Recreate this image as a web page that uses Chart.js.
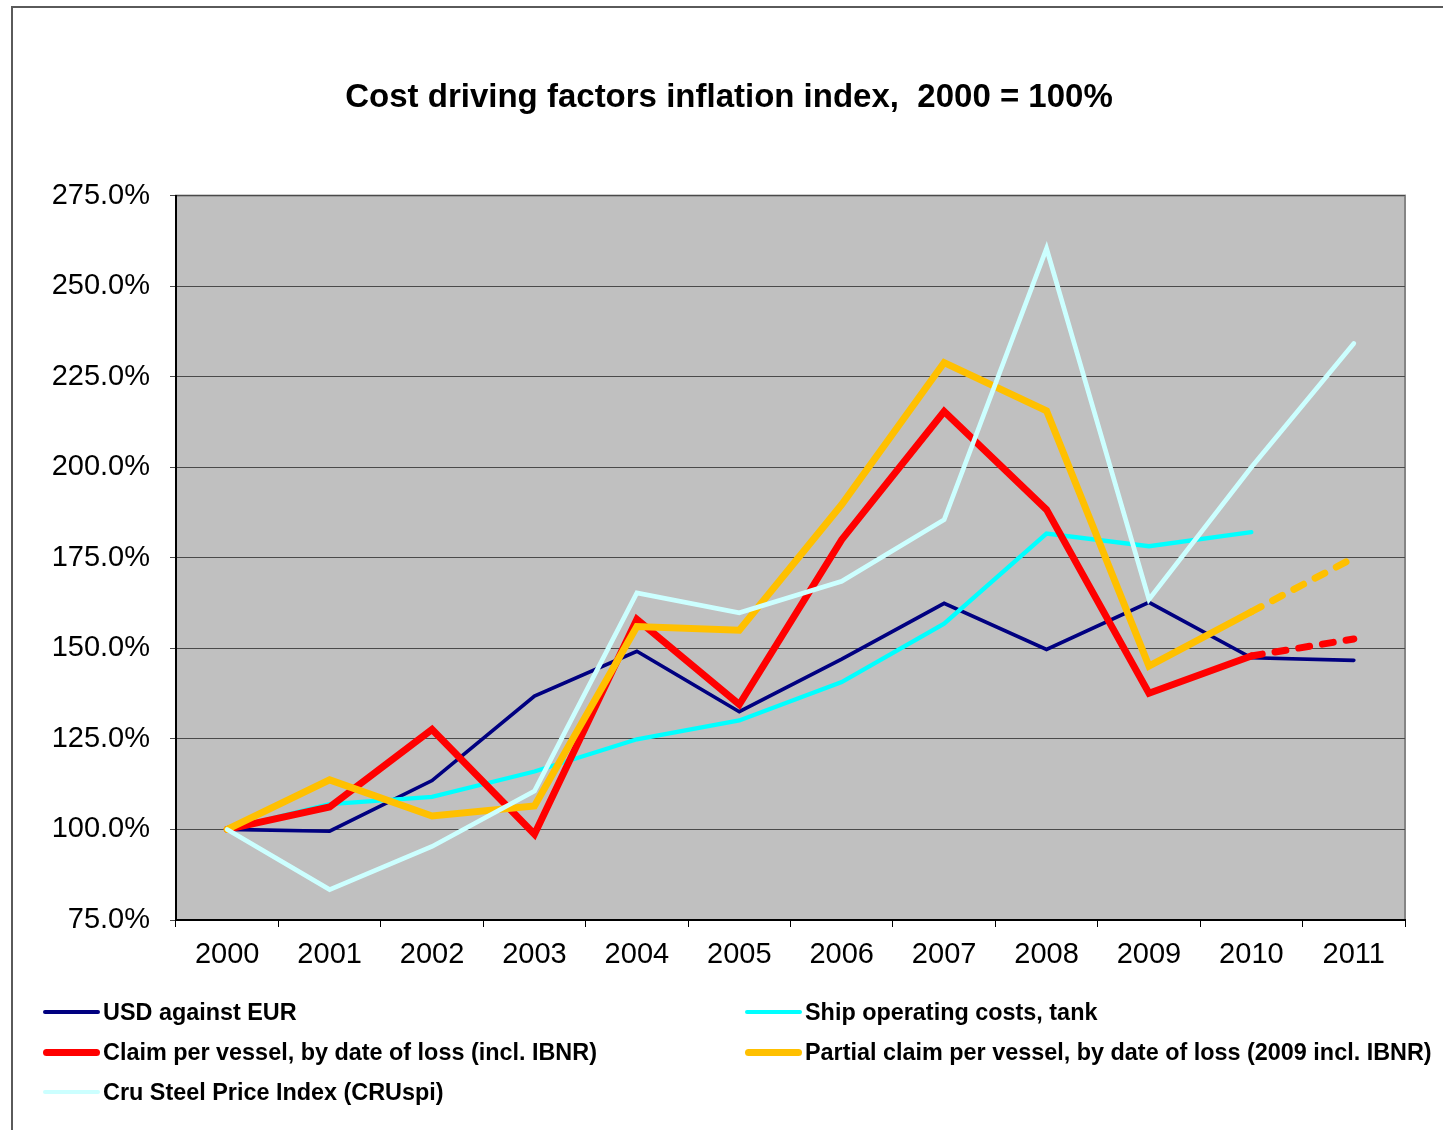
<!DOCTYPE html>
<html>
<head>
<meta charset="utf-8">
<title>Cost driving factors inflation index</title>
<script src="https://cdn.jsdelivr.net/npm/chart.js@4.4.0/dist/chart.umd.min.js"></script>
<style>
    html, body {
        margin: 0;
        padding: 0;
        background: #ffffff;
        overflow: hidden;
        width: 1443px;
        height: 1130px;
    }
    .frame {
        position: absolute;
        left: 11px;
        top: 6px;
        width: 1500px;
        height: 1200px;
        border-left: 2px solid #5a5a5a;
        border-top: 2px solid #5a5a5a;
    }
    .chart-box {
        position: absolute;
        left: 0;
        top: 0;
        width: 1458px;
        height: 1130px;
    }
    .legend-item {
        position: absolute;
        height: 30px;
        line-height: 30px;
        font-family: 'Liberation Sans', Arial, sans-serif;
        font-weight: bold;
        font-size: 23.4px;
        color: #000;
        white-space: nowrap;
    }
    .legend-item .swatch {
        position: absolute;
        left: 0;
        width: 57px;
        border-radius: 4px;
    }
    .legend-item .label {
        position: absolute;
        left: 60px;
        top: 0;
    }
</style>
</head>
<body>
<div class="frame"></div>
<div class="chart-box">
    <canvas id="inflationChart" width="1458" height="1130"></canvas>
</div>
<div id="legend"></div>

<script>
// categories
const years = ['2000', '2001', '2002', '2003', '2004', '2005', '2006', '2007', '2008', '2009', '2010', '2011'];

// index values, 2000 = 100%
const usdEur = [100, 99.5, 113.5, 136.8, 149.2, 132.5, 147.0, 162.4, 149.7, 162.7, 147.4, 146.7];
const shipOpex = [100, 107.0, 109.0, 116.0, 124.9, 130.1, 140.7, 156.8, 181.7, 178.2, 182.1, null];
const claimPerVessel = [100, 106.2, 127.6, 98.7, 158.0, 134.5, 180.0, 215.4, 188.3, 137.6, 147.9, 152.6];
const partialClaim = [100, 113.7, 103.7, 106.5, 156.0, 155.0, 189.7, 228.9, 215.6, 145.1, 160.1, 175.0];
const cruSteel = [100, 83.4, 95.3, 110.6, 165.3, 159.8, 168.5, 185.5, 260.4, 163.5, 200.0, 234.2];

// y axis range
const yMin = 75;
const yMax = 275;
const yStep = 25;

// last segment (2010 -> 2011) is a forecast, drawn dashed
const forecastFrom = 10;
const forecastDash = ctx => ctx.p0DataIndex >= forecastFrom ? [11, 13] : undefined;

Chart.defaults.font.family = "'Liberation Sans', Arial, sans-serif";
Chart.defaults.color = '#000';

const chartData = {
    labels: years,
    datasets: [
        {
            label: 'USD against EUR',
            data: usdEur,
            borderColor: '#000080',
            borderWidth: 3.7,
            order: 5
        },
        {
            label: 'Ship operating costs, tank',
            data: shipOpex,
            borderColor: '#00ffff',
            borderWidth: 4.3,
            order: 4
        },
        {
            label: 'Claim per vessel, by date of loss (incl. IBNR)',
            data: claimPerVessel,
            borderColor: '#ff0000',
            borderWidth: 7,
            segment: { borderDash: forecastDash },
            order: 3
        },
        {
            label: 'Partial claim per vessel, by date of loss (2009 incl. IBNR)',
            data: partialClaim,
            borderColor: '#ffc000',
            borderWidth: 7,
            segment: { borderDash: forecastDash },
            order: 2
        },
        {
            label: 'Cru Steel Price Index (CRUspi)',
            data: cruSteel,
            borderColor: '#ccffff',
            borderWidth: 4.7,
            order: 1
        }
    ]
};

chartData.datasets.forEach(ds => {
    ds.fill = false;
    ds.tension = 0;
    ds.pointRadius = 0;
    ds.pointHoverRadius = 0;
    ds.borderCapStyle = 'round';
    ds.borderJoinStyle = 'miter';
    ds.spanGaps = false;
});

// grey plot area with a thin frame
const plotBackground = {
    id: 'plotBackground',
    beforeDraw(chart) {
        const { ctx, chartArea: a } = chart;
        ctx.save();
        ctx.fillStyle = '#c0c0c0';
        ctx.fillRect(a.left, a.top, a.width, a.height);
        ctx.strokeStyle = '#858585';
        ctx.lineWidth = 2;
        ctx.strokeRect(a.left, a.top, a.width, a.height);
        ctx.restore();
    }
};

const config = {
    type: 'line',
    data: chartData,
    options: {
        responsive: false,
        animation: false,
        events: [],
        layout: {
            padding: { left: 53, right: 53, top: 0, bottom: 0 }
        },
        plugins: {
            legend: { display: false },
            tooltip: { enabled: false },
            title: {
                display: true,
                text: 'Cost driving factors inflation index,  2000 = 100%',
                color: '#000',
                font: { size: 33, weight: 'bold' },
                padding: { top: 78, bottom: 78 }
            }
        },
        scales: {
            x: {
                offset: true,
                grid: {
                    offset: true,
                    drawOnChartArea: false,
                    drawTicks: true,
                    tickLength: 7,
                    color: '#000'
                },
                border: { color: '#000', width: 2 },
                ticks: {
                    color: '#000',
                    font: { size: 29 },
                    padding: 11,
                    maxRotation: 0,
                    autoSkip: false
                },
                afterFit(scale) {
                    scale.height = 210;
                }
            },
            y: {
                min: yMin,
                max: yMax,
                grid: {
                    color: '#4a4a4a',
                    lineWidth: 1,
                    tickLength: 6
                },
                border: { color: '#000', width: 2 },
                ticks: {
                    stepSize: yStep,
                    color: '#000',
                    font: { size: 29 },
                    padding: 20,
                    callback: value => value.toFixed(1) + '%'
                },
                afterFit(scale) {
                    scale.width = 123;
                }
            }
        }
    },
    plugins: [plotBackground]
};

const ctx = document.getElementById('inflationChart').getContext('2d');
const inflationChart = new Chart(ctx, config);

// legend in two columns below the plot
const legendCols = [43, 745];
const legendRows = [1012, 1052, 1092];
const legendBox = document.getElementById('legend');
inflationChart.data.datasets.forEach((ds, i) => {
    const item = document.createElement('div');
    item.className = 'legend-item';
    item.style.left = legendCols[i % 2] + 'px';
    item.style.top = (legendRows[Math.floor(i / 2)] - 15) + 'px';

    const swatch = document.createElement('span');
    swatch.className = 'swatch';
    swatch.style.background = ds.borderColor;
    swatch.style.height = ds.borderWidth + 'px';
    swatch.style.top = (15 - ds.borderWidth / 2) + 'px';

    const label = document.createElement('span');
    label.className = 'label';
    label.textContent = ds.label;

    item.appendChild(swatch);
    item.appendChild(label);
    legendBox.appendChild(item);
});
</script>
</body>
</html>
